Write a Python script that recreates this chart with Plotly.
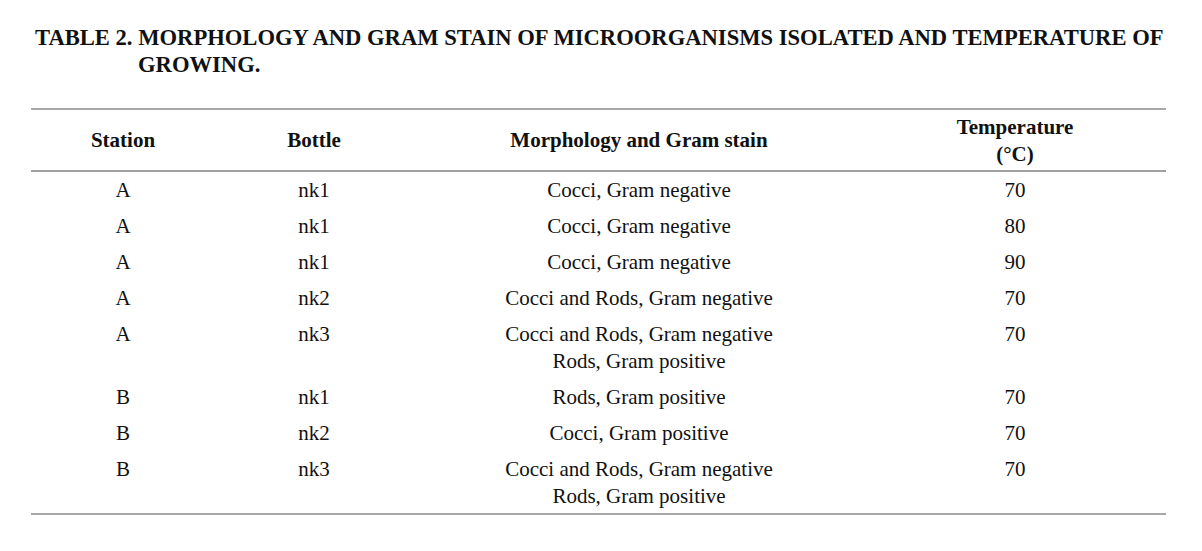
import plotly.graph_objects as go

# table content
headers = ["Station", "Bottle", "Morphology and Gram stain", "Temperature<br>(°C)"]
station = ["A", "A", "A", "A", "A", "B", "B", "B"]
bottle = ["nk1", "nk1", "nk1", "nk2", "nk3", "nk1", "nk2", "nk3"]
morphology = [
    "Cocci, Gram negative",
    "Cocci, Gram negative",
    "Cocci, Gram negative",
    "Cocci and Rods, Gram negative",
    "Cocci and Rods, Gram negative<br>Rods, Gram positive",
    "Rods, Gram positive",
    "Cocci, Gram positive",
    "Cocci and Rods, Gram negative<br>Rods, Gram positive",
]
temperature = [70, 80, 90, 70, 70, 70, 70, 70]

title_1 = "TABLE 2. MORPHOLOGY AND GRAM STAIN OF MICROORGANISMS ISOLATED AND TEMPERATURE OF"
title_2 = "GROWING."

# layout (screen-pixel coordinates, y downwards; page body has an 8px margin)
W, H = 1202, 551
PAD = 8
col_x = [123, 314, 639, 1015]
rule_x0, rule_x1 = 31, 1166
top_rule, head_rule, bottom_rule = 109, 171, 514
first_row = 192
row_pitch = 36
line_pitch = 27
FONT = "Liberation Serif, Times New Roman, serif"
INK = "#111111"

columns = [station, bottle, morphology, [str(t) for t in temperature]]

fig = go.Figure()

# body: one text point per line of each cell
for cx, col in zip(col_x, columns):
    xs, ys, ts = [], [], []
    y = first_row
    for i, cell in enumerate(col):
        nlines = max(len(c[i].split("<br>")) for c in columns)
        for k, part in enumerate(cell.split("<br>")):
            xs.append(cx)
            ys.append(y + k * line_pitch)
            ts.append(part)
        y += row_pitch + line_pitch * (nlines - 1)
    fig.add_trace(go.Scatter(
        x=xs, y=ys, text=ts, mode="text", textposition="middle center",
        textfont=dict(family=FONT, size=21, color=INK),
        hoverinfo="skip", showlegend=False,
    ))

# header
head_mid = (top_rule + head_rule) / 2 + 2
hx, hy, ht = [], [], []
for cx, h in zip(col_x, headers):
    parts = h.split("<br>")
    off = (len(parts) - 1) * line_pitch / 2
    for k, part in enumerate(parts):
        hx.append(cx)
        hy.append(head_mid - off + k * line_pitch)
        ht.append("<b>" + part + "</b>")
fig.add_trace(go.Scatter(
    x=hx, y=hy, text=ht, mode="text", textposition="middle center",
    textfont=dict(family=FONT, size=21, color=INK),
    hoverinfo="skip", showlegend=False,
))

# rules
for yy, col, w in [(top_rule, "#a8a8a8", 2), (head_rule, "#808080", 1.5), (bottom_rule, "#a8a8a8", 2)]:
    fig.add_shape(type="line", x0=rule_x0, x1=rule_x1, y0=yy, y1=yy,
                  line=dict(color=col, width=w))

# title
fig.add_annotation(x=33, y=37, text="<b>" + title_1 + "</b>", showarrow=False,
                   xanchor="left", yanchor="middle",
                   font=dict(family=FONT, size=22.6, color=INK))
fig.add_annotation(x=136, y=64, text="<b>" + title_2 + "</b>", showarrow=False,
                   xanchor="left", yanchor="middle",
                   font=dict(family=FONT, size=22.6, color=INK))

fig.update_xaxes(range=[PAD, W - PAD], visible=False, fixedrange=True)
fig.update_yaxes(range=[H - PAD, PAD], visible=False, fixedrange=True)
fig.update_layout(
    width=W - 2 * PAD, height=H - 2 * PAD,
    margin=dict(l=0, r=0, t=0, b=0),
    paper_bgcolor="white", plot_bgcolor="white",
)

fig.write_html("out.html")
